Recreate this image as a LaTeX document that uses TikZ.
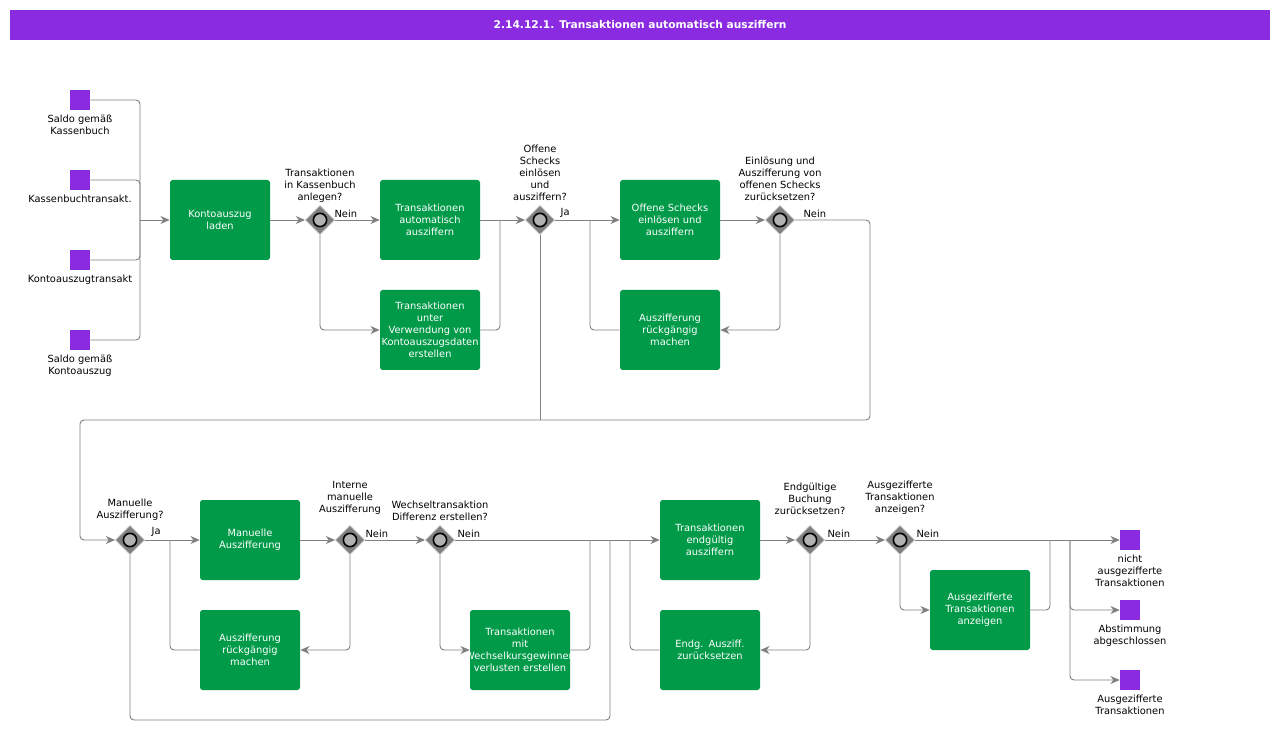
\documentclass[tikz,border=0pt]{standalone}
\usepackage{fontspec}
\setmainfont{DejaVu Sans}
\usetikzlibrary{arrows.meta,shapes.geometric,positioning}
\definecolor{pur}{HTML}{8A2BE2}
\definecolor{grn}{HTML}{009A49}
\definecolor{ln}{HTML}{808080}
\begin{document}
\begin{tikzpicture}[x=0.75pt,y=-0.75pt,font=\fontsize{7.4}{9}\selectfont,
 task/.style={draw=none,fill=grn,rounded corners=2pt,minimum width=75pt,minimum height=60pt,text=white,align=center,text width=66pt,inner sep=2pt},
 sq/.style={fill=pur,minimum size=15pt,inner sep=0pt},
 gw/.style={diamond,fill=ln,draw=white!70!gray,minimum size=22pt,inner sep=0pt},
 lbl/.style={align=center,inner sep=1pt},
 e/.style={draw=ln,line width=0.7pt,rounded corners=3pt},
 a/.style={e,-{Stealth[length=7pt,width=6pt]}}]
\useasboundingbox (0,0) rectangle (1280,730);
\fill[pur] (10,10) rectangle (1270,40);
\node[text=white,font=\fontsize{8}{10}\selectfont\bfseries] (title) at (640,25) {2.14.12.1. Transaktionen automatisch ausziffern};
\def\gwat#1#2{\node[gw] (#1) at (#2) {}; \draw[line width=1.2pt,fill=gray!60] (#1) circle (5pt);}
\foreach \n/\y in {s1/100,s2/180,s3/260,s4/340} \node[sq] (\n) at (80,\y) {};
\node[lbl,below=2pt of s1] {Saldo gemäß\\Kassenbuch};
\node[lbl,below=2pt of s2] {Kassenbuchtransakt.};
\node[lbl,below=2pt of s3] {Kontoauszugtransakt};
\node[lbl,below=2pt of s4] {Saldo gemäß\\Kontoauszug};
\node[task] (k) at (220,220) {Kontoauszug\\laden};
\coordinate (bus) at (140,220);
\foreach \n in {s1,s2,s3,s4} \draw[e] (\n.east) -| (bus);
\draw[a] (bus) -- (k);
\gwat{g1}{320,220}
\node[lbl,anchor=south] at (320,204) {Transaktionen\\in Kassenbuch\\anlegen?};
\node[anchor=south west,inner sep=1pt] at (333,219) {Nein};
\draw[a] (k) -- (g1);
\node[task] (a1) at (430,220) {Transaktionen\\automatisch\\ausziffern};
\node[task] (a2) at (430,330) {};
\begin{scope}\clip (380,290) rectangle (480,370);
\node[text=white,align=center] (a2t) at (430,330) {Transaktionen\\unter\\Verwendung von\\Kontoauszugsdaten\\erstellen};
\end{scope}
\draw[a] (g1) -- (a1);
\draw[a] (g1) |- (a2);
\gwat{g2}{540,220}
\node[lbl,anchor=south] at (540,202) {Offene\\Schecks\\einlösen\\und\\ausziffern?};
\node[anchor=south west,inner sep=1pt] at (559,219) {Ja};
\draw[a] (a1) -- (g2);
\draw[e] (a2.east) -| (500,220);
\node[task] (b1) at (670,220) {Offene Schecks\\einlösen und\\ausziffern};
\node[task] (b2) at (670,330) {Auszifferung\\rückgängig\\machen};
\draw[a] (g2) -- (b1);
\draw[e] (b2.west) -| (590,220);
\gwat{g3}{780,220}
\node[lbl,anchor=south] at (780,202) {Einlösung und\\Auszifferung von\\offenen Schecks\\zurücksetzen?};
\node[anchor=south west,inner sep=1pt] at (802,219) {Nein};
\draw[a] (b1) -- (g3);
\draw[a] (g3) |- (b2);
\gwat{g4}{130,540}
\draw[a] (g3.east) -- (870,220) -- (870,420) -- (80,420) -- (80,540) -- (g4);
\draw[e] (g2.south) -- (540,420);
\node[lbl,anchor=south] at (130,522) {Manuelle\\Auszifferung?};
\node[anchor=south west,inner sep=1pt] at (150,538) {Ja};
\node[task] (c1) at (250,540) {Manuelle\\Auszifferung};
\node[task] (c2) at (250,650) {Auszifferung\\rückgängig\\machen};
\draw[a] (g4) -- (c1);
\draw[e] (c2.west) -| (170,540);
\gwat{g5}{350,540}
\node[lbl,anchor=south] at (350,516) {Interne\\manuelle\\Auszifferung};
\node[anchor=south west,inner sep=1pt] at (364,539) {Nein};
\draw[a] (c1) -- (g5);
\draw[a] (g5) |- (c2);
\gwat{g6}{440,540}
\node[lbl,anchor=south] at (440,522) {Wechseltransaktion\\Differenz erstellen?};
\node[anchor=south west,inner sep=1pt] at (456,539) {Nein};
\draw[a] (g5) -- (g6);
\node[task] (w) at (520,650) {};
\begin{scope}\clip (470,610) rectangle (570,690);
\node[text=white,align=center] (wt) at (520,650) {Transaktionen\\mit\\Wechselkursgewinnen\\verlusten erstellen};
\end{scope}
\draw[a] (g6) |- (w);
\node[task] (d1) at (710,540) {Transaktionen\\endgültig\\ausziffern};
\node[task] (d2) at (710,650) {Endg. Ausziff.\\zurücksetzen};
\draw[a] (g6) -- (d1);
\draw[e] (w.east) -| (590,540);
\draw[e] (g4.south) -- (130,720) -| (610,540);
\draw[e] (d2.west) -| (630,540);
\gwat{g7}{810,540}
\node[lbl,anchor=south] at (810,516) {Endgültige\\Buchung\\zurücksetzen?};
\node[anchor=south west,inner sep=1pt] at (826,539) {Nein};
\draw[a] (d1) -- (g7);
\draw[a] (g7) |- (d2);
\gwat{g8}{900,540}
\node[lbl,anchor=south] at (900,516) {Ausgezifferte\\Transaktionen\\anzeigen?};
\node[anchor=south west,inner sep=1pt] at (915,539) {Nein};
\draw[a] (g7) -- (g8);
\node[task] (en) at (980,610) {Ausgezifferte\\Transaktionen\\anzeigen};
\draw[a] (g8) |- (en);
\node[sq] (t1) at (1130,540) {};
\node[sq] (t2) at (1130,610) {};
\node[sq] (t3) at (1130,680) {};
\node[lbl,below=2pt of t1] {nicht\\ausgezifferte\\Transaktionen};
\node[lbl,below=2pt of t2] {Abstimmung\\abgeschlossen};
\node[lbl,below=2pt of t3] {Ausgezifferte\\Transaktionen};
\draw[a] (g8) -- (t1);
\draw[e] (en.east) -| (1050,540);
\draw[a] (1070,540) |- (t2);
\draw[a] (1070,540) |- (t3);
\end{tikzpicture}
\end{document}
